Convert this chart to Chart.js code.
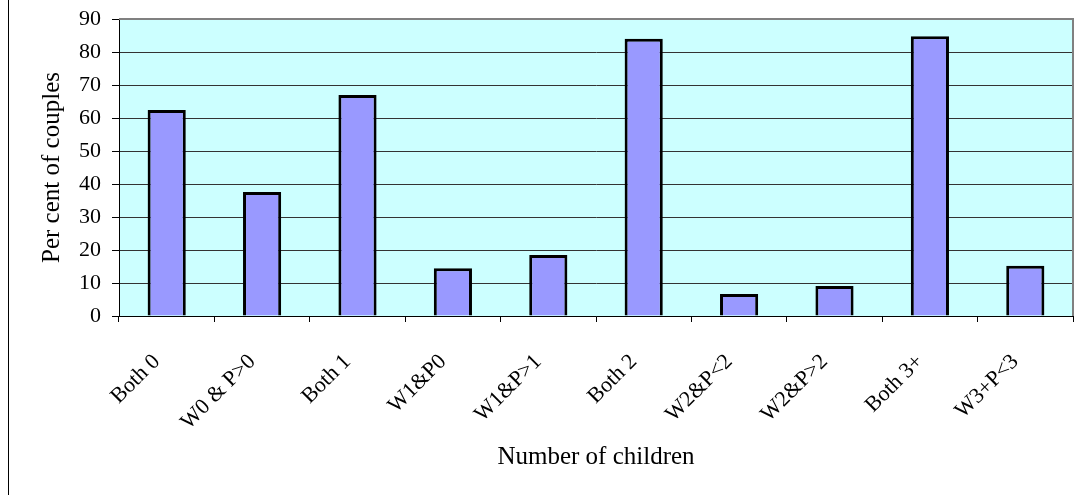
<!DOCTYPE html>
<html>
<head>
<meta charset="utf-8">
<script src="https://cdn.jsdelivr.net/npm/chart.js@4"></script>
<style>
  html, body { margin: 0; padding: 0; background: #ffffff; }
  #wrap { width: 1086px; height: 495px; }
</style>
</head>
<body>
<div id="wrap"><canvas id="childrenChart" width="1086" height="495"></canvas></div>
<script>
const categories = ["Both 0", "W0 & P>0", "Both 1", "W1&P0", "W1&P>1", "Both 2", "W2&P<2", "W2&P>2", "Both 3+", "W3+P<3"];
const percentOfCouples = [62.4, 37.6, 67, 14.5, 18.5, 84, 6.7, 9.1, 84.8, 15.2];
const yTicks = [0, 10, 20, 30, 40, 50, 60, 70, 80, 90];

const serif = "'Liberation Serif', 'Times New Roman', serif";

// plot background, grey frame and the outer left edge
const framePlugin = {
  id: "frame",
  beforeDraw(chart) {
    const { ctx, chartArea: a } = chart;
    ctx.save();
    ctx.fillStyle = "#ccffff";
    ctx.fillRect(a.left, a.top, a.right - a.left, a.bottom - a.top);
    ctx.restore();
  },
  afterDraw(chart) {
    const { ctx, chartArea: a } = chart;
    ctx.save();
    ctx.strokeStyle = "#808080";
    ctx.lineWidth = 2;
    ctx.beginPath();
    ctx.moveTo(a.left, a.top);
    ctx.lineTo(a.right, a.top);
    ctx.lineTo(a.right, a.bottom);
    ctx.stroke();
    ctx.strokeStyle = "#000000";
    ctx.lineWidth = 1;
    ctx.beginPath();
    ctx.moveTo(8.5, 0);
    ctx.lineTo(8.5, 495);
    ctx.stroke();
    ctx.restore();
  }
};

new Chart(document.getElementById("childrenChart"), {
  type: "bar",
  data: {
    labels: categories,
    datasets: [{
      data: percentOfCouples,
      backgroundColor: "#9999ff",
      borderColor: "#000000",
      borderWidth: 3,
      categoryPercentage: 0.8,
      barPercentage: 0.5
    }]
  },
  options: {
    responsive: false,
    animation: false,
    layout: { padding: { left: 20, top: 19, right: 13, bottom: 20 } },
    plugins: { legend: { display: false }, tooltip: { enabled: false } },
    scales: {
      x: {
        offset: true,
        grid: { display: true, drawOnChartArea: false, drawTicks: true, tickLength: 6, color: "#000000", offset: true },
        border: { color: "#000000", width: 1 },
        ticks: {
          color: "#000000",
          font: { family: serif, size: 22 },
          minRotation: 45,
          maxRotation: 45,
          padding: 27,
          labelOffset: -10,
          autoSkip: false
        },
        title: {
          display: true,
          text: "Number of children",
          color: "#000000",
          font: { family: serif, size: 25 },
          padding: { top: 0, bottom: 3 }
        },
        afterFit(scale) {
          scale.height = 495 - 316 - 20;
          scale.paddingLeft = 0;
          scale.paddingRight = 0;
        }
      },
      y: {
        min: 0,
        max: 90,
        afterBuildTicks(scale) { scale.ticks = yTicks.map(v => ({ value: v })); },
        grid: { color: "#333333", lineWidth: 1, tickLength: 7, tickColor: "#000000" },
        border: { color: "#000000", width: 1 },
        ticks: {
          color: "#000000",
          font: { family: serif, size: 22 },
          padding: 11
        },
        title: {
          display: true,
          text: "Per cent of couples",
          color: "#000000",
          font: { family: serif, size: 25 },
          padding: { top: 17, bottom: 0 }
        },
        afterFit(scale) {
          scale.width = 119 - 20;
          scale.paddingTop = 0;
          scale.paddingBottom = 0;
        }
      }
    }
  },
  plugins: [framePlugin]
});
</script>
</body>
</html>
